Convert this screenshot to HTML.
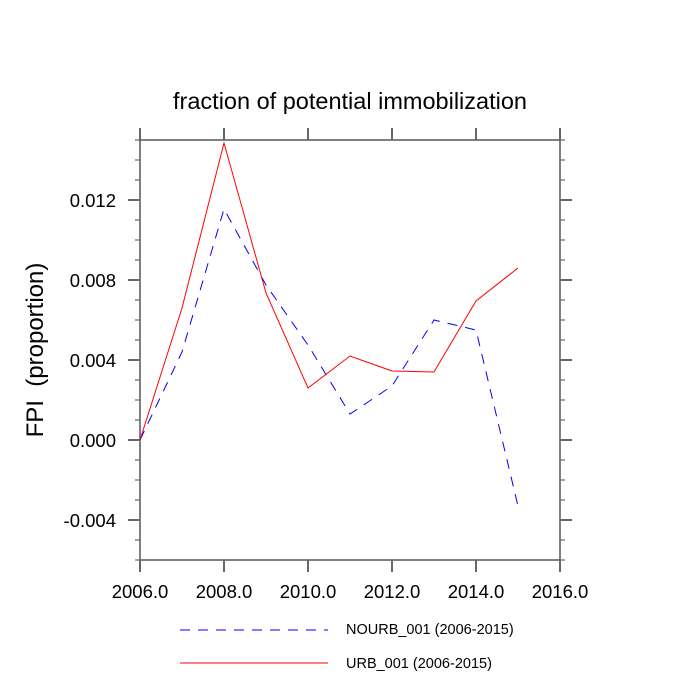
<!DOCTYPE html>
<html><head><meta charset="utf-8"><style>
body{margin:0;background:#fff}
svg{display:block;font-family:"Liberation Sans",sans-serif}
</style></head><body>
<svg id="chart" width="700" height="700">
<text x="350" y="109" font-size="23.5" text-anchor="middle">fraction of potential immobilization</text>
<text transform="translate(43,350) rotate(-90)" font-size="24" text-anchor="middle" xml:space="preserve">FPI  (proportion)</text>
<g id="axes"></g>
<g id="series"></g>
<g>
<line x1="180" y1="630" x2="328" y2="630" stroke="#0000ff" stroke-dasharray="10,8"/>
<text x="346" y="634" font-size="14.5">NOURB_001 (2006-2015)</text>
<line x1="180" y1="663" x2="328" y2="663" stroke="#ff0000"/>
<text x="346" y="668" font-size="14.5">URB_001 (2006-2015)</text>
</g>
</svg>
<script>
const years=[2006,2007,2008,2009,2010,2011,2012,2013,2014,2015];
const urb=[0,0.0066,0.01485,0.00735,0.0026,0.0042,0.00345,0.0034,0.00695,0.0086];
const nourb=[0,0.0044,0.01155,0.00775,0.00475,0.0013,0.0027,0.006,0.0055,-0.0033];
const xTicks=[2006,2008,2010,2012,2014,2016];
const yTicks=[-0.004,0,0.004,0.008,0.012];
const yTickLabels=["-0.004","0.000","0.004","0.008","0.012"];
const X0=140,X1=560,Y0=140,Y1=560;
const xs=v=>X0+(v-2006)/10*(X1-X0);
const ys=v=>Y1-(v+0.006)/0.021*(Y1-Y0);
const NS="http://www.w3.org/2000/svg";
const axes=document.getElementById('axes');
function mk(tag,attrs,parent){const e=document.createElementNS(NS,tag);for(const k in attrs)e.setAttribute(k,attrs[k]);parent.appendChild(e);return e;}
const frame=mk('rect',{x:X0,y:Y0,width:X1-X0,height:Y1-Y0,fill:'none',stroke:'#555','stroke-width':1.5},axes);


xTicks.forEach(t=>{
 const x=xs(t);
 mk('line',{x1:x,y1:Y0,x2:x,y2:Y0-12,stroke:'#666','stroke-width':2},axes);
 mk('line',{x1:x,y1:Y1,x2:x,y2:Y1+12,stroke:'#666','stroke-width':2},axes);
 const tx=mk('text',{x:x,y:598,'font-size':18.5,'text-anchor':'middle'},axes);
 tx.textContent=t.toFixed(1);
 
 
});
for(let i=-6;i<=15;i++){
 const v=i/1000,y=ys(v);
 const major=yTicks.some(t=>Math.abs(t-v)<1e-9);
 const L=major?12:5;
 mk('line',{x1:X0,y1:y,x2:X0-L,y2:y,stroke:'#666','stroke-width':major?2:1.2},axes);
 mk('line',{x1:X1,y1:y,x2:X1+L,y2:y,stroke:'#666','stroke-width':major?2:1.2},axes);
}
yTicks.forEach((t,i)=>{
 const tx=mk('text',{x:116,y:ys(t)+7,'font-size':18.5,'text-anchor':'end'},axes);
 tx.textContent=yTickLabels[i];
 
 
});
const series=document.getElementById('series');
const p1=mk('polyline',{points:years.map((y,i)=>xs(y)+','+ys(nourb[i])).join(' '),fill:'none',stroke:'#0000ff','stroke-width':1,'stroke-dasharray':'10,8'},series);


const p2=mk('polyline',{points:years.map((y,i)=>xs(y)+','+ys(urb[i])).join(' '),fill:'none',stroke:'#ff0000','stroke-width':1},series);


</script>
</body></html>
